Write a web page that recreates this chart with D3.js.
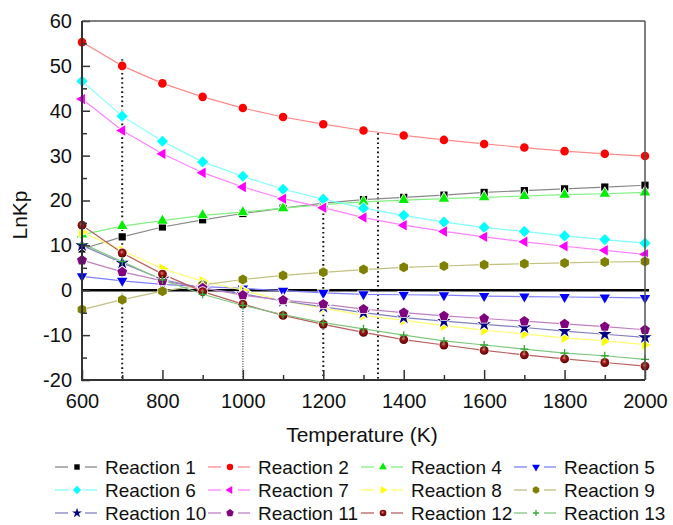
<!DOCTYPE html>
<html><head><meta charset="utf-8">
<script src="https://cdn.jsdelivr.net/npm/d3@7"></script>
<style>
body{margin:0;background:#fff;}
svg{display:block;font-family:Arial,"Liberation Sans",sans-serif;}
</style>
</head><body>
<svg id="chart" width="673" height="525"></svg>
<script>
// ---------- data ----------
const temperatures = [600,700,800,900,1000,1100,1200,1300,1400,1500,1600,1700,1800,1900,2000];
const reactionNames = ["Reaction 1","Reaction 2","Reaction 4","Reaction 5","Reaction 6","Reaction 7","Reaction 8","Reaction 9","Reaction 10","Reaction 11","Reaction 12","Reaction 13"];
const reaction1  = [9.2, 11.9, 14.1, 15.7, 17.1, 18.3, 19.4, 20.2, 20.7, 21.2, 21.8, 22.2, 22.6, 23.0, 23.4];
const reaction2  = [55.3, 50.0, 46.1, 43.1, 40.6, 38.6, 37.0, 35.6, 34.5, 33.5, 32.6, 31.8, 31.0, 30.4, 29.9];
const reaction4  = [12.4, 14.3, 15.5, 16.7, 17.4, 18.3, 19.1, 19.7, 20.1, 20.4, 20.7, 21.0, 21.3, 21.5, 21.8];
const reaction5  = [3.1, 2.1, 1.3, 0.8, 0.4, -0.1, -0.6, -0.9, -1.0, -1.1, -1.3, -1.4, -1.5, -1.6, -1.7];
const reaction6  = [46.6, 38.8, 33.2, 28.6, 25.4, 22.5, 20.3, 18.3, 16.7, 15.2, 14.0, 13.1, 12.1, 11.3, 10.5];
const reaction7  = [42.6, 35.6, 30.4, 26.2, 23.0, 20.4, 18.4, 16.2, 14.5, 13.1, 11.9, 10.8, 9.8, 8.9, 8.0];
const reaction8  = [13.0, 8.8, 4.8, 2.0, 0.0, -2.4, -4.0, -5.6, -6.7, -7.9, -8.9, -9.7, -10.6, -11.3, -12.1];
const reaction9  = [-4.3, -2.1, -0.2, 1.2, 2.4, 3.3, 4.0, 4.6, 5.1, 5.4, 5.7, 5.9, 6.1, 6.3, 6.4];
const reaction10 = [10.0, 6.1, 2.4, 0.5, -0.8, -2.4, -3.7, -5.0, -6.1, -6.9, -7.6, -8.3, -9.1, -9.8, -10.5];
const reaction11 = [6.7, 4.1, 2.1, 0.5, -1.1, -2.2, -3.1, -4.2, -5.0, -5.7, -6.3, -6.9, -7.5, -8.1, -8.8];
const reaction12 = [14.5, 8.3, 3.6, -0.3, -3.1, -5.6, -7.6, -9.4, -11.0, -12.2, -13.4, -14.4, -15.3, -16.1, -16.9];
const reaction13 = [10.4, 6.4, 2.3, -0.9, -3.4, -5.4, -7.2, -8.6, -10.0, -11.3, -12.2, -13.1, -14.0, -14.6, -15.4];
const xTickLabels = [600, 800, 1000, 1200, 1400, 1600, 1800, 2000];
const xMinorTicks = [700, 900, 1100, 1300, 1500, 1700, 1900];
const yTickLabels = [-20, -10, 0, 10, 20, 30, 40, 50, 60];
const yMinorTicks = [-15, -5, 5, 15, 25, 35, 45, 55];
const guideTemps = [700, 1000, 1200, 1336];
const guideTops  = [51.5, -3.5, 21.2, 35.0];

const seriesValues = [reaction1, reaction2, reaction4, reaction5, reaction6, reaction7, reaction8, reaction9, reaction10, reaction11, reaction12, reaction13];

// ---------- styles ----------
const styles = [
  {fill:"#000000", line:"#888888", shape:"square"},
  {fill:"#ff0000", line:"#ff8a8a", shape:"circle"},
  {fill:"#00ee00", line:"#80f080", shape:"up"},
  {fill:"#0000ff", line:"#8080ff", shape:"down"},
  {fill:"#00ffff", line:"#80ffff", shape:"diamond"},
  {fill:"#ff00ff", line:"#ff80ff", shape:"left"},
  {fill:"#ffff00", line:"#ffff70", shape:"right"},
  {fill:"#808000", line:"#c0c080", shape:"hexagon"},
  {fill:"#000080", line:"#8080c0", shape:"star"},
  {fill:"#800080", line:"#c080c0", shape:"pentagon"},
  {fill:"url(#ball)", line:"#b86060", shape:"ball"},
  {fill:"#33aa33", line:"#80c880", shape:"plus"}
];

function poly(n, r, startDeg){
  const pts = [];
  for(let i=0;i<n;i++){
    const a = (startDeg + i*360/n) * Math.PI/180;
    pts.push([ (r*Math.cos(a)).toFixed(2), (r*Math.sin(a)).toFixed(2) ]);
  }
  return "M" + pts.map(p=>p.join(",")).join("L") + "Z";
}
function shapePath(shape, k){
  switch(shape){
    case "square": { const s=3.6*k; return `M${-s},${-s}H${s}V${s}H${-s}Z`; }
    case "circle": return d3.symbol(d3.symbolCircle, 58*k*k)();
    case "ball": return d3.symbol(d3.symbolCircle, 62*k*k)();
    case "up": return poly(3, 6*k, -90);
    case "down": return poly(3, 6*k, 90);
    case "left": return poly(3, 6*k, 180);
    case "right": return poly(3, 6*k, 0);
    case "diamond": return poly(4, 5.6*k, -90);
    case "hexagon": return poly(6, 5*k, -90);
    case "pentagon": return poly(5, 5.2*k, -90);
    case "star": return d3.symbol(d3.symbolStar, 55*k*k)();
    case "plus": { const s=4*k; return `M${-s},0H${s}M0,${-s}V${s}`; }
  }
}

// ---------- chart ----------
const svg = d3.select("#chart");
const defs = svg.append("defs");
const grad = defs.append("radialGradient").attr("id","ball").attr("cx","45%").attr("cy","40%").attr("r","60%");
grad.append("stop").attr("offset","0%").attr("stop-color","#e89090");
grad.append("stop").attr("offset","35%").attr("stop-color","#a01818");
grad.append("stop").attr("offset","100%").attr("stop-color","#5a0000");

const x = d3.scaleLinear().domain([600,2000]).range([82,645]);
const y = d3.scaleLinear().domain([-20,60]).range([380,21]);

// guide dotted lines
guideTemps.forEach((t,i)=>{
  const light = t === 1000;
  svg.append("line")
    .attr("x1",x(t)).attr("x2",x(t))
    .attr("y1",y(guideTops[i])).attr("y2",y(-20))
    .attr("stroke", light ? "#555" : "#111")
    .attr("stroke-width", light ? 1.4 : 2)
    .attr("stroke-dasharray", light ? "1,1.5" : "1.6,3");
});

// zero line
svg.append("line").attr("x1",x(600)).attr("x2",x(2000)+4)
  .attr("y1",y(0)).attr("y2",y(0)).attr("stroke","#000").attr("stroke-width",2.5);

// series lines
const lineGen = d3.line().x((d,i)=>x(temperatures[i])).y(d=>y(d));
seriesValues.forEach((vals,si)=>{
  svg.append("path").attr("d",lineGen(vals)).attr("fill","none")
    .attr("stroke",styles[si].line).attr("stroke-width",1.2);
});

// markers
function drawMarker(g, st, k){
  const p = g.append("path").attr("d", shapePath(st.shape, k));
  if(st.shape === "plus"){
    p.attr("fill","none").attr("stroke",st.fill).attr("stroke-width",1.3);
  } else {
    p.attr("fill",st.fill).attr("stroke","#fff").attr("stroke-width",1.6)
     .style("paint-order","stroke");
  }
}
seriesValues.forEach((vals,si)=>{
  const g = svg.append("g");
  vals.forEach((v,i)=>{
    const mg = g.append("g").attr("transform",`translate(${x(temperatures[i])},${y(v)})`);
    drawMarker(mg, styles[si], 1);
  });
});

// axes
const axisColor = "#333";
const plainFmt = d => String(d);
const xAxis = svg.append("g").attr("transform",`translate(0,${y(-20)})`)
  .call(d3.axisBottom(x).tickValues(xTickLabels).tickSize(-10).tickPadding(14).tickFormat(plainFmt));
const xMinor = svg.append("g").attr("transform",`translate(0,${y(-20)})`)
  .call(d3.axisBottom(x).tickValues(xMinorTicks).tickSize(-5).tickFormat(""));
const yAxis = svg.append("g").attr("transform",`translate(${x(600)},0)`)
  .call(d3.axisLeft(y).tickValues(yTickLabels).tickSize(-8).tickPadding(10).tickFormat(plainFmt));
const yMinor = svg.append("g").attr("transform",`translate(${x(600)},0)`)
  .call(d3.axisLeft(y).tickValues(yMinorTicks).tickSize(-5).tickFormat(""));
[xAxis,xMinor,yAxis,yMinor].forEach(a=>{
  a.select(".domain").remove();
  a.selectAll(".tick line").attr("stroke",axisColor).attr("stroke-width",1.5);
  a.selectAll(".tick text").attr("fill","#111").style("font-size","20px")
    .style("font-family","Arial, 'Liberation Sans', sans-serif");
});

// frame
svg.append("line").attr("x1",x(600)).attr("x2",x(2000)).attr("y1",y(60)).attr("y2",y(60)).attr("stroke","#555").attr("stroke-width",1.5);
svg.append("line").attr("x1",x(2000)).attr("x2",x(2000)).attr("y1",y(60)).attr("y2",y(-20)).attr("stroke","#555").attr("stroke-width",1.5);
svg.append("line").attr("x1",x(600)).attr("x2",x(600)).attr("y1",y(60)).attr("y2",y(-20)+1).attr("stroke",axisColor).attr("stroke-width",2);
svg.append("line").attr("x1",x(600)-1).attr("x2",x(2000)).attr("y1",y(-20)).attr("y2",y(-20)).attr("stroke",axisColor).attr("stroke-width",2);

// axis titles
svg.append("text").attr("x",362).attr("y",442).attr("text-anchor","middle")
  .style("font-size","21px").attr("fill","#111").text("Temperature (K)");
svg.append("text").attr("transform","translate(27,215) rotate(-90)").attr("text-anchor","middle")
  .style("font-size","21px").attr("fill","#111").text("LnKp");

// legend
const legendCols = [105, 258, 411, 564];
const legendRows = [467, 490, 513];
reactionNames.forEach((name,i)=>{
  const tx = legendCols[i % 4], ty = legendRows[Math.floor(i/4)];
  const st = styles[i];
  const g = svg.append("g");
  g.append("line").attr("x1",tx-50).attr("x2",tx-37).attr("y1",ty).attr("y2",ty).attr("stroke",st.line).attr("stroke-width",1.3);
  g.append("line").attr("x1",tx-20).attr("x2",tx-8).attr("y1",ty).attr("y2",ty).attr("stroke",st.line).attr("stroke-width",1.3);
  const mg = g.append("g").attr("transform",`translate(${tx-28},${ty})`);
  drawMarker(mg, st, 0.75);
  g.append("text").attr("x",tx).attr("y",ty).attr("dy","0.36em")
    .style("font-size","19px").attr("fill","#111").text(name);
});
</script>
</body></html>
